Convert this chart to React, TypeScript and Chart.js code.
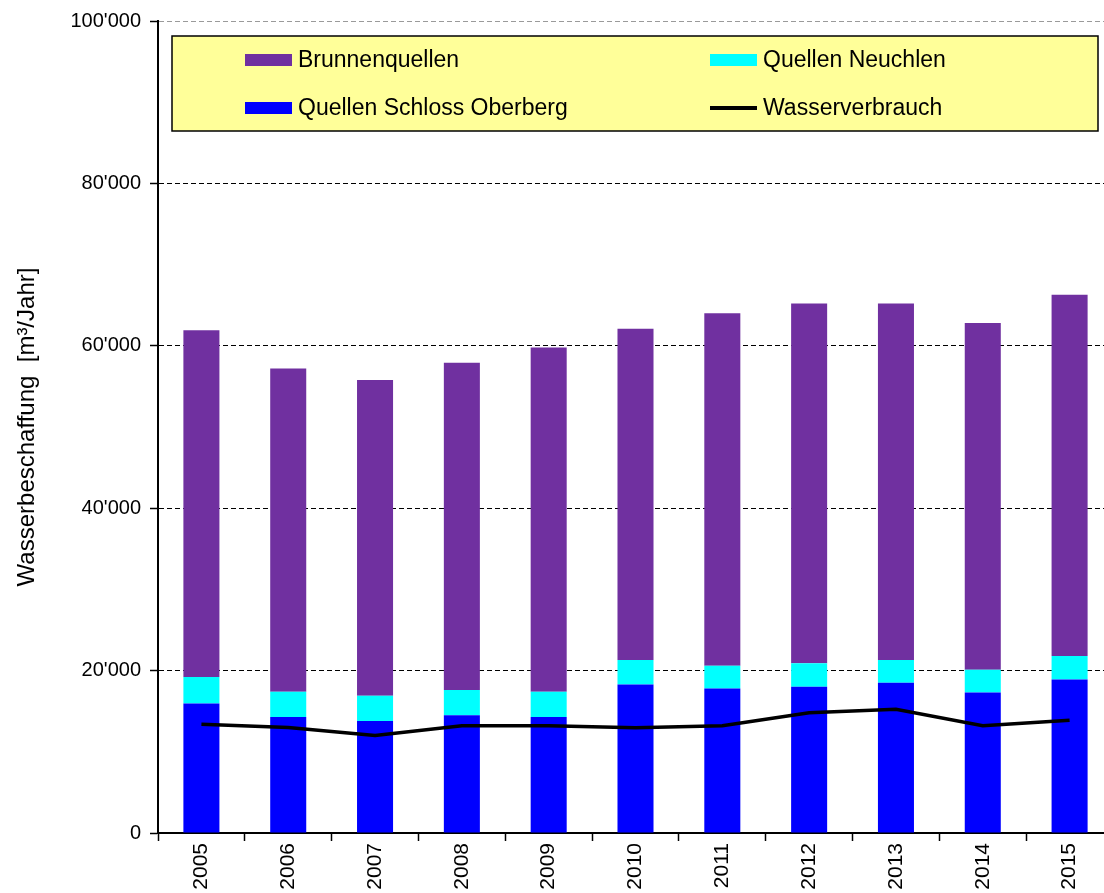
import React, { useEffect, useRef } from 'react';
import { Chart, registerables } from 'chart.js';

Chart.register(...registerables);

const years = ['2005', '2006', '2007', '2008', '2009', '2010', '2011', '2012', '2013', '2014', '2015'];
const oberberg = [15950, 14300, 13800, 14500, 14300, 18300, 17800, 18000, 18500, 17300, 18900];
const neuchlen = [3250, 3100, 3100, 3100, 3100, 3000, 2800, 2900, 2800, 2800, 2900];
const brunnen = [42700, 39800, 38900, 40300, 42400, 40800, 43400, 44300, 43900, 42700, 44500];
const verbrauch = [13400, 13000, 12000, 13200, 13200, 12950, 13200, 14800, 15250, 13200, 13900];
const yTickValues = [0, 20000, 40000, 60000, 80000, 100000];

const FONT = "'Liberation Sans', Arial, sans-serif";

const fmt = (v: number) => String(v).replace(/\B(?=(\d{3})+(?!\d))/g, "'");

const boxLegend = {
  id: 'boxLegend',
  afterDraw(chart: any) {
    const { ctx, chartArea } = chart;
    const left = chartArea.left + 14;
    const top = chartArea.top + 15;
    const right = chartArea.right - 15;
    const bottom = top + 95;
    ctx.save();
    ctx.fillStyle = '#FFFF99';
    ctx.fillRect(left, top, right - left, bottom - top);
    ctx.lineWidth = 1.5;
    ctx.strokeStyle = '#000';
    ctx.strokeRect(left, top, right - left, bottom - top);
    const ds = chart.data.datasets;
    const items = [
      { d: ds[2], x: left + 73, y: top + 24 },
      { d: ds[1], x: left + 538, y: top + 24 },
      { d: ds[0], x: left + 73, y: top + 72 },
      { d: ds[3], x: left + 538, y: top + 72 },
    ];
    ctx.font = `23px ${FONT}`;
    ctx.textBaseline = 'middle';
    ctx.textAlign = 'left';
    for (const it of items) {
      if (it.d.type === 'line') {
        ctx.fillStyle = it.d.borderColor;
        ctx.fillRect(it.x, it.y - 2, 47, 4);
      } else {
        ctx.fillStyle = it.d.backgroundColor;
        ctx.fillRect(it.x, it.y - 6, 47, 12);
      }
      ctx.fillStyle = '#000';
      ctx.fillText(it.d.label, it.x + 53, it.y + 1);
    }
    ctx.restore();
  },
};

export default function App() {
  const ref = useRef<HTMLCanvasElement | null>(null);
  useEffect(() => {
    if (!ref.current) return;
    const chart = new Chart(ref.current, {
      type: 'bar',
      data: {
        labels: years,
        datasets: [
          { type: 'bar', label: 'Quellen Schloss Oberberg', data: oberberg, backgroundColor: '#0000FF', stack: 'bars', order: 1, borderWidth: 0 },
          { type: 'bar', label: 'Quellen Neuchlen', data: neuchlen, backgroundColor: '#00FFFF', stack: 'bars', order: 1, borderWidth: 0 },
          { type: 'bar', label: 'Brunnenquellen', data: brunnen, backgroundColor: '#7030A0', stack: 'bars', order: 1, borderWidth: 0 },
          { type: 'line', label: 'Wasserverbrauch', data: verbrauch, borderColor: '#000000', backgroundColor: '#000000', borderWidth: 3.5, pointRadius: 0, tension: 0, stack: 'line', order: 0 } as any,
        ],
      },
      options: {
        responsive: false,
        animation: false,
        devicePixelRatio: 1,
        layout: { padding: { top: 20, left: 0, right: 0, bottom: 0 } },
        datasets: { bar: { barPercentage: 0.415, categoryPercentage: 1 } },
        plugins: { legend: { display: false }, tooltip: { enabled: false } },
        scales: {
          x: {
            stacked: true,
            afterFit: (s: any) => { s.height = 60; },
            grid: { display: true, drawOnChartArea: false, drawTicks: true, tickLength: 8, tickColor: '#000', tickWidth: 1.5, offset: true },
            border: { display: true, color: '#000', width: 2 },
            ticks: { color: '#000', font: { family: FONT, size: 21 }, minRotation: 90, maxRotation: 90, padding: 2, autoSkip: false },
          },
          y: {
            stacked: true,
            min: 0,
            max: 100000,
            afterFit: (s: any) => { s.width = 158; },
            afterBuildTicks: (s: any) => { s.ticks = yTickValues.map((v) => ({ value: v })); },
            grid: {
              color: (c: any) => (c.tick && c.tick.value === 100000 ? '#9a9a9a' : c.tick && c.tick.value === 0 ? 'rgba(0,0,0,0)' : '#000'),
              lineWidth: 1,
              tickLength: 8,
              tickColor: '#000',
              tickWidth: 1.5,
              tickBorderDash: [],
            },
            border: { display: true, color: '#000', width: 2, dash: [5, 3] },
            ticks: { color: '#000', font: { family: FONT, size: 20 }, padding: 9, callback: (v: any) => fmt(Number(v)) },
            title: {
              display: true,
              text: 'Wasserbeschaffung  [m³/Jahr]',
              color: '#000',
              font: { family: FONT, size: 24 },
              padding: { top: 13, bottom: 0 },
            },
          },
        },
      },
      plugins: [boxLegend],
    } as any);
    return () => chart.destroy();
  }, []);
  return (
    <div style={{ position: 'absolute', left: 0, top: 0, width: 1104, height: 893, overflow: 'hidden', background: '#fff' }}>
      <canvas ref={ref} width={1113} height={893} style={{ width: 1113, height: 893, display: 'block' }} />
    </div>
  );
}
